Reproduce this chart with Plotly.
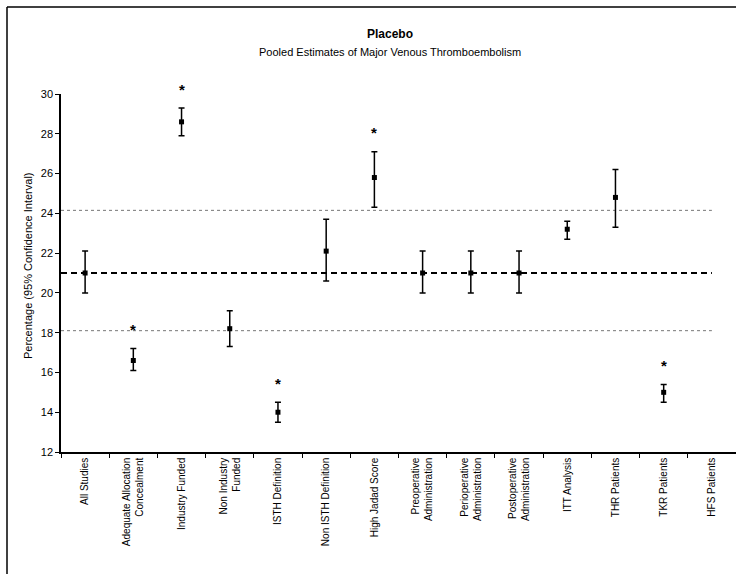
import plotly.graph_objects as go

categories = ["All Studies", "Adequate Allocation<br>Concealment", "Industry Funded",
              "Non Industry<br>Funded", "ISTH Definition", "Non ISTH Definition",
              "High Jadad Score", "Preoperative<br>Administration",
              "Perioperative<br>Administration", "Postoperative<br>Administration",
              "ITT Analysis", "THR Patients", "TKR Patients", "HFS Patients"]
estimate = [21.0, 16.6, 28.6, 18.2, 14.0, 22.1, 25.8, 21.0, 21.0, 21.0, 23.2, 24.8, 15.0, None]
ci_lower = [20.0, 16.1, 27.9, 17.3, 13.5, 20.6, 24.3, 20.0, 20.0, 20.0, 22.7, 23.3, 14.5, None]
ci_upper = [22.1, 17.2, 29.3, 19.1, 14.5, 23.7, 27.1, 22.1, 22.1, 22.1, 23.6, 26.2, 15.4, None]
significant = [False, True, True, False, True, False, True, False, False, False, False, False, True, False]
pooled_mean = 21.0
band_upper = 24.15
band_lower = 18.1
y_ticks = [12, 14, 16, 18, 20, 22, 24, 26, 28, 30]
y_range = [12, 30]

err_plus = [(u - e) if e is not None else None for e, u in zip(estimate, ci_upper)]
err_minus = [(e - l) if e is not None else None for e, l in zip(estimate, ci_lower)]

FONT = "Liberation Sans, Arial"

fig = go.Figure()
fig.add_trace(go.Scatter(
    x=categories, y=estimate, mode="markers",
    marker=dict(symbol="square", size=5, color="black"),
    error_y=dict(type="data", symmetric=False, array=err_plus, arrayminus=err_minus,
                 color="black", thickness=1.5, width=3),
    showlegend=False, cliponaxis=False))

# significance stars above the upper confidence limit (paper y so they show above the axis range)
for c, u, s in zip(categories, ci_upper, significant):
    if s:
        fig.add_annotation(x=c, y=(u + 0.95 - y_range[0]) / (y_range[1] - y_range[0]),
                           xref="x", yref="paper", text="<b>*</b>", showarrow=False,
                           xanchor="center", yanchor="middle",
                           font=dict(family=FONT, size=15, color="black"))

last = len(categories) - 1
fig.add_shape(type="line", xref="x", yref="y", x0=-0.5, x1=last, y0=band_upper, y1=band_upper,
              line=dict(color="#777777", width=1, dash="dot"), layer="below")
fig.add_shape(type="line", xref="x", yref="y", x0=-0.5, x1=last, y0=band_lower, y1=band_lower,
              line=dict(color="#777777", width=1, dash="dot"), layer="below")
fig.add_shape(type="line", xref="x", yref="y", x0=-0.5, x1=last, y0=pooled_mean, y1=pooled_mean,
              line=dict(color="black", width=2, dash="6px,4px"), layer="below")

# chart-area frame (left and top edges visible)
fig.add_shape(type="line", xref="paper", yref="paper", x0=-0.08, x1=-0.08, y0=-0.4, y1=1.243,
              line=dict(color="black", width=1.5))
fig.add_shape(type="line", xref="paper", yref="paper", x0=-0.08, x1=1.1, y0=1.243, y1=1.243,
              line=dict(color="black", width=1.5))

fig.add_annotation(text="<b>Placebo</b>", xref="paper", yref="paper", x=(390 - 61) / 675,
                   y=(452 - 34) / 358, showarrow=False, xanchor="center", yanchor="middle",
                   font=dict(family=FONT, size=12, color="black"))
fig.add_annotation(text="Pooled Estimates of Major Venous Thromboembolism", xref="paper", yref="paper",
                   x=(390 - 61) / 675, y=(452 - 52) / 358, showarrow=False,
                   xanchor="center", yanchor="middle",
                   font=dict(family=FONT, size=11, color="black"))
fig.add_annotation(text="Percentage (95% Confidence Interval)", xref="paper", yref="paper",
                   x=(28 - 61) / 675, y=(452 - 266) / 358, showarrow=False, textangle=-90,
                   xanchor="center", yanchor="middle",
                   font=dict(family=FONT, size=11, color="black"))

fig.update_layout(
    width=736, height=574,
    margin=dict(l=61, r=0, t=94, b=122),
    paper_bgcolor="white", plot_bgcolor="white",
    font=dict(family=FONT, size=10, color="black"),
    xaxis=dict(type="category", categoryorder="array", categoryarray=categories,
               range=[-0.5, last + 0.5], showgrid=False, zeroline=False,
               showline=True, linecolor="black", linewidth=1.5,
               ticks="outside", tickson="boundaries", ticklen=4, tickcolor="black",
               tickangle=-90, tickfont=dict(size=10)),
    yaxis=dict(range=y_range, tickvals=y_ticks, showgrid=False, zeroline=False,
               showline=True, linecolor="black", linewidth=1.5,
               ticks="outside", ticklen=4, tickcolor="black", tickfont=dict(size=11)),
)

fig.write_html("out.html")
